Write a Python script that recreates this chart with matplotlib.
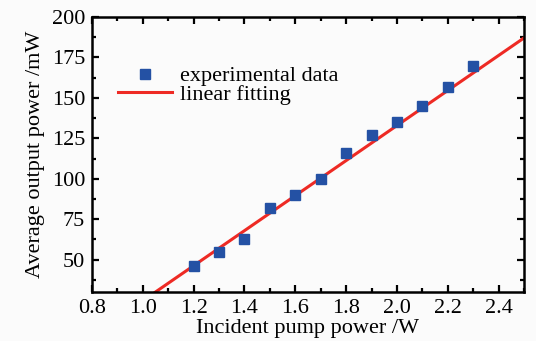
import numpy as np
import matplotlib
matplotlib.use("Agg")
import matplotlib.pyplot as plt
from matplotlib.ticker import MultipleLocator

# measured points
pump_power = [1.2, 1.3, 1.4, 1.5, 1.6, 1.7, 1.8, 1.9, 2.0, 2.1, 2.2, 2.3]
output_power = [46, 55, 63, 82, 90, 100, 116, 127, 135, 145, 157, 170]

# linear fit
fit_slope = 108.3
fit_intercept = -83.7
fit_x = [1.0, 2.5]

plt.rcParams['font.family'] = ['Liberation Serif', 'DejaVu Serif']

fig = plt.figure(figsize=(5.36, 3.41), dpi=100)
fig.patch.set_facecolor('#fbfbfb')
ax = fig.add_axes([92 / 536, 1 - 292 / 341, 432 / 536, 275 / 341])
ax.set_facecolor('#fbfbfb')

fx = np.array(fit_x)
ax.plot(fx, fit_slope * fx + fit_intercept, color='#ee2a24', lw=2.2,
        label='linear fitting', zorder=2)
ax.plot(pump_power, output_power, 's', color='#2451a4', ms=7.2, ls='none',
        label='experimental data', zorder=3)

ax.set_xlim(0.8, 2.5)
ax.set_ylim(30, 200)
ax.xaxis.set_major_locator(MultipleLocator(0.2))
ax.xaxis.set_minor_locator(MultipleLocator(0.1))
ax.yaxis.set_minor_locator(MultipleLocator(12.5))
ax.set_yticks([50, 75, 100, 125, 150, 175, 200])
ax.tick_params(which='both', direction='in', top=True, right=True,
               labeltop=False, labelright=False, width=1.6, labelsize=16)
ax.tick_params(which='major', length=5, pad=5)
ax.tick_params(which='minor', length=3)
ax.xaxis.set_major_formatter(matplotlib.ticker.FormatStrFormatter('%.1f'))
for s in ax.spines.values():
    s.set_linewidth(1.8)

ax.set_xlabel('Incident pump power /W', fontsize=16, labelpad=1)
ax.set_ylabel('Average output power /mW', fontsize=16, labelpad=5)

h, l = ax.get_legend_handles_labels()
ax.legend(h[::-1], l[::-1], loc='upper left', bbox_to_anchor=(0.04, 0.855),
          frameon=False, fontsize=16, handlelength=2.4, labelspacing=-0.1,
          borderaxespad=0, handletextpad=0.4)

fig.savefig('out.png', dpi=100, facecolor=fig.get_facecolor())
